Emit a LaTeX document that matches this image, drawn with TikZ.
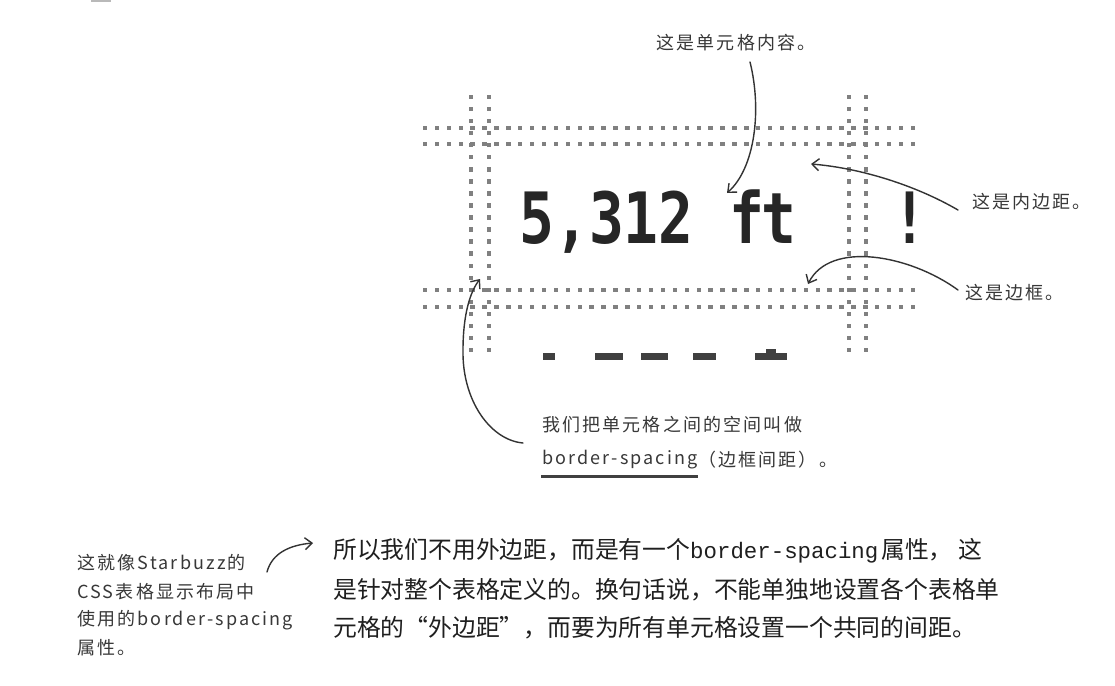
\documentclass[tikz,border=0pt]{standalone}
\usepackage{fontspec}
\usetikzlibrary{arrows.meta,calc}
\newfontfamily\handfont[LetterSpace=12]{Noto Sans CJK SC}
\newfontfamily\bodyfont{Noto Sans CJK SC}
\newfontfamily\codefont{Liberation Mono}
\newfontfamily\pixelfont{DejaVu Sans Mono}
\begin{document}
\begin{tikzpicture}[x=1pt,y=-1pt,
  hand/.style={font={\handfont\fontsize{18}{18}\selectfont}, text=black!78, inner sep=0pt},
  body/.style={font={\bodyfont\fontsize{23.8}{23.8}\selectfont}, text=black!88, inner sep=0pt, anchor=west},
  big/.style={font={\pixelfont\bfseries\fontsize{58}{58}\selectfont}, text=black!85, inner sep=0pt, yscale=1.22},
  dot/.style={fill=black!50},
  dash bar/.style={fill=black!75},
  note arrow/.style={-{Straight Barb[length=7pt,width=12pt]}, line width=1.4pt, draw=black!80, line cap=round}]

\useasboundingbox (0,0) rectangle (1115,685);
\fill[white] (0,0) rectangle (1115,685);
\fill[gray!55] (91,0) rectangle (111,2.5);

% dotted grid: horizontal rows
\foreach \yy in {128,144,290,307}{
  \foreach \i in {0,...,41}{
    \fill[dot] ({425+\i*11.9-2.2},{\yy-2.2}) rectangle +(4.4,4.4);
  }
}
% dotted grid: vertical columns
\foreach \xx in {471,489,849,866}{
  \foreach \j in {0,...,21}{
    \fill[dot] ({\xx-2.2},{97+\j*12.05-2.2}) rectangle +(4.4,4.4);
  }
}

% cell content
\node[big, anchor=base west] (cell) at (519,243) {5,312\kern36pt f\kern-3pt t};
\node[big, anchor=base] (bang) at (910,243) {!};

% partially visible next row
\fill[dash bar] (543,353) rectangle (555,360);
\fill[dash bar] (595,353) rectangle (623,360);
\fill[dash bar] (641,353) rectangle (668,360);
\fill[dash bar] (693,353) rectangle (716,360);
\fill[dash bar] (755,353) rectangle (787,360);
\fill[dash bar] (766,353) rectangle (776,349);

% annotations
\node[hand] (lblcontent) at (736,43) {这是单元格内容。};
\node[hand, anchor=west] (lblpadding) at (972,202) {这是内边距。};
\node[hand, anchor=west] (lblborder) at (965,293) {这是边框。};
\node[hand, anchor=west] (spacinga) at (542,425) {我们把单元格之间的空间叫做};
\node[hand, anchor=west] (bsword) at (542,460) {border-spacing};
\node[hand, anchor=west] (bsrest) at (bsword.east) {（边框间距）。};
\draw[line width=2.8pt, black!75] ($(bsword.south west)+(-1,7)$) -- ($(bsword.south east)+(0,7)$);

\node[hand, anchor=west] (note1) at (77,563) {这就像Starbuzz的};
\node[hand, anchor=west] (note2) at (77,592) {CSS表格显示布局中};
\node[hand, anchor=west] (note3) at (77,620) {使用的border-spacing};
\node[hand, anchor=west] (note4) at (77,648) {属性。};

% arrow end points
\coordinate (contentstart) at (750,62);
\coordinate (contenttip) at (727,193);
\coordinate (paddingstart) at (958,210);
\coordinate (paddingtip) at (811,164);
\coordinate (borderstart) at (958,290);
\coordinate (bordertip) at (808,284);
\coordinate (spacingstart) at (523,443);
\coordinate (spacingmid) at (463,350);
\coordinate (spacingtip) at (480,279);
\coordinate (notestart) at (267,572);
\coordinate (notetip) at (313,543);

\draw[note arrow] (contentstart) .. controls (762,110) and (755,168) .. (contenttip);
\draw[note arrow] (paddingstart) .. controls (915,185) and (860,168) .. (paddingtip);
\draw[note arrow] (borderstart) .. controls (910,255) and (830,240) .. (bordertip);
\draw[note arrow] (spacingstart) .. controls (490,440) and (462,400) .. (spacingmid)
                  .. controls (463,315) and (470,292) .. (spacingtip);
\draw[note arrow] (notestart) .. controls (272,553) and (290,545) .. (notetip);

% body text
\node[body] (line1) at (333,551) {所以我们不用外边距，而是有一个{\codefont\fontsize{22.4}{22.4}\selectfont border-spacing}\hspace{3pt}属性，\hspace{6pt}这};
\node[body] (line2) at (333,590) {是针对整个表格定义的。换句话说，不能单独地设置各个表格单};
\node[body] (line3) at (333,628) {元格的“外边距”，而要为所有单元格设置一个共同的间距。};
\end{tikzpicture}
\end{document}
